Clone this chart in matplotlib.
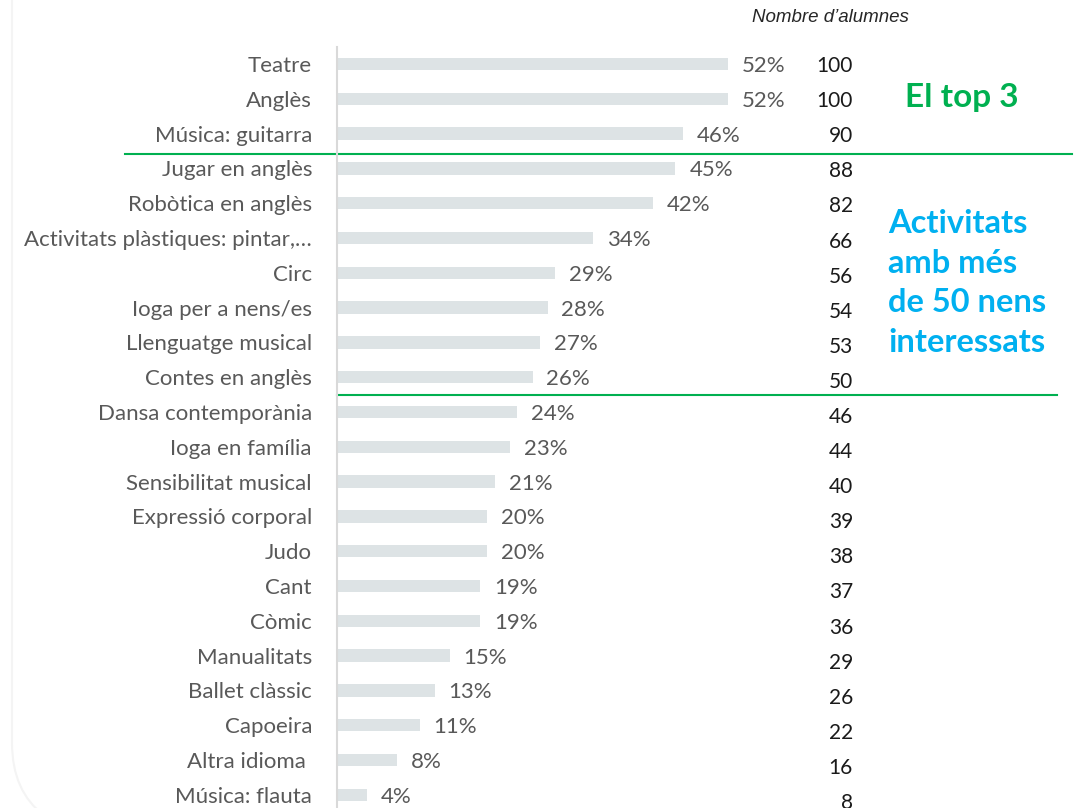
import matplotlib
matplotlib.use('Agg')
import matplotlib.pyplot as plt
import matplotlib.transforms as mtransforms
from matplotlib.patches import FancyBboxPatch

# data
activitats = ['Teatre', 'Anglès', 'Música: guitarra', 'Jugar en anglès',
              'Robòtica en anglès', 'Activitats plàstiques: pintar,…', 'Circ',
              'Ioga per a nens/es', 'Llenguatge musical', 'Contes en anglès',
              'Dansa contemporània', 'Ioga en família', 'Sensibilitat musical',
              'Expressió corporal', 'Judo', 'Cant', 'Còmic', 'Manualitats',
              'Ballet clàssic', 'Capoeira', 'Altra idioma ', 'Música: flauta']
percentatge = [52, 52, 46, 45, 42, 34, 29, 28, 27, 26, 24, 23, 21, 20, 20, 19, 19, 15, 13, 11, 8, 4]
alumnes = [100, 100, 90, 88, 82, 66, 56, 54, 53, 50, 46, 44, 40, 39, 38, 37, 36, 29, 26, 22, 16, 8]

W, H = 1082, 808
fig = plt.figure(figsize=(W / 100, H / 100), dpi=100)
fig.patch.set_facecolor('white')

# faint rounded frame in the background
frame = FancyBboxPatch((12 / W, 1 - 840 / H), 1.2, 1.2,
                       boxstyle='round,pad=0,rounding_size=0.12',
                       transform=fig.transFigure, fill=False,
                       edgecolor='#f4f4f4', lw=1.5, zorder=0)
fig.patches.append(frame)

step = 34.8
top_px = 64 - 0.5 * step
ylim = (21.35, -0.5)
h_px = (ylim[0] - ylim[1]) * step
left_px = 337
xscale = 7.52
w_px = 500
rect = [left_px / W, 1 - (top_px + h_px) / H, w_px / W, h_px / H]

ax = fig.add_axes(rect)
ax.set_facecolor('none')
ypos = list(range(len(activitats)))
ax.barh(ypos, percentatge, height=0.36, color='#dde3e5')
ax.set_xlim(0, w_px / xscale)
ax.set_ylim(*ylim)
ax.set_yticks(ypos)
ax.set_yticklabels(activitats, fontsize=16, color='#595959', family='Lato')
ax.tick_params(axis='y', length=0, pad=18)
ax.set_xticks([])
for s in ['top', 'right', 'bottom']:
    ax.spines[s].set_visible(False)
ax.spines['left'].set_color('#d9d9d9')
ax.spines['left'].set_linewidth(1.5)

for i, v in enumerate(percentatge):
    ax.annotate(f'{v}%', (v, i), xytext=(10, 0), textcoords='offset points',
                va='center_baseline', ha='left', fontsize=16, color='#595959', family='Lato')

# column of counts (its rows run slightly wider apart)
k = step / 35.1
ax2 = fig.add_axes(rect, frameon=False)
ax2.set_xticks([])
ax2.set_yticks([])
ax2.set_ylim(ylim[0] * k, ylim[1] * k)
tr2 = mtransforms.blended_transform_factory(fig.transFigure, ax2.transData)
for i, n in enumerate(alumnes):
    ax2.text(853 / W, i, str(n), transform=tr2, ha='right', va='center_baseline',
             fontsize=15, color='#1a1a1a', family='Lato')

fig.text(830 / W, 1 - 18 / H, 'Nombre d’alumnes', ha='center', va='center',
         fontsize=13.5, style='italic', color='#262626', family='Liberation Sans')

# separators
tr = mtransforms.blended_transform_factory(fig.transFigure, ax.transData)
ax.plot([125 / W, 1072 / W], [2.6, 2.6], transform=tr, color='#00b050', lw=1.5, clip_on=False)
ax.plot([337 / W, 1057 / W], [9.5, 9.5], transform=tr, color='#00b050', lw=1.5, clip_on=False)

fig.text(905 / W, 1 - 98 / H, 'El top 3', ha='left', va='center',
         fontsize=24, fontweight='bold', color='#00b050', family='Lato')
fig.text(888 / W, 1 - 283 / H, 'Activitats\namb més\nde 50 nens\ninteressats',
         ha='left', va='center', fontsize=23.5, fontweight='bold', color='#00b0f0',
         family='Lato', linespacing=1.44)

fig.savefig('out.png', dpi=100)
